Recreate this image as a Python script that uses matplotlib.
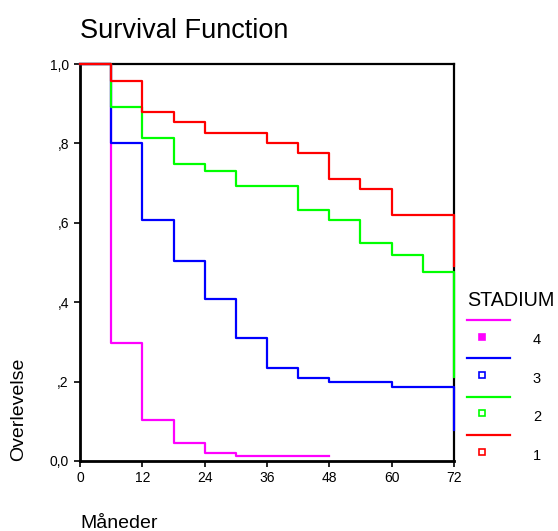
import matplotlib
matplotlib.use("Agg")
import matplotlib.pyplot as plt
from matplotlib.lines import Line2D

plt.rcParams['font.family'] = ['Liberation Sans', 'DejaVu Sans']

# Kaplan-Meier survival estimates per stadium
months = [0, 6, 12, 18, 24, 30, 36, 42, 48, 54, 60, 66, 72]
surv_1 = [1.0, 0.956, 0.879, 0.853, 0.826, 0.826, 0.801, 0.776, 0.710, 0.685, 0.620, 0.620, 0.490]
surv_2 = [1.0, 0.891, 0.814, 0.749, 0.730, 0.692, 0.692, 0.633, 0.608, 0.549, 0.518, 0.477, 0.212]
surv_3 = [1.0, 0.800, 0.607, 0.504, 0.407, 0.309, 0.234, 0.208, 0.200, 0.200, 0.187, 0.187, 0.078]
months_4 = [0, 6, 12, 18, 24, 30, 36, 42, 48]
surv_4 = [1.0, 0.297, 0.103, 0.045, 0.019, 0.013, 0.013, 0.013, 0.013]

stadium_labels = ['4', '3', '2', '1']
stadium_colors = ['#ff00ff', '#0000ff', '#00ff00', '#ff0000']
x_ticks = [0, 12, 24, 36, 48, 60, 72]
y_ticks = [0.0, 0.2, 0.4, 0.6, 0.8, 1.0]
y_ticklabels = ['0,0', ',2', ',4', ',6', ',8', '1,0']

W, H = 558, 531
fig = plt.figure(figsize=(W / 100, H / 100), dpi=100)
ax = fig.add_axes([80 / W, 1 - 461 / H, 374 / W, 397 / H])

# draw stadium 4 first so stadium 1 ends up on top
series = [(months_4, surv_4), (months, surv_3), (months, surv_2), (months, surv_1)]
for (t, s), c in zip(series, stadium_colors):
    ax.step(t, s, where='post', color=c, lw=1.6, zorder=3, clip_on=False)

ax.set_xlim(0, 72)
ax.set_ylim(0, 1)
ax.set_xticks(x_ticks)
ax.set_xticklabels([str(v) for v in x_ticks])
ax.set_yticks(y_ticks)
ax.set_yticklabels(y_ticklabels)
ax.tick_params(direction='out', length=4, width=1.2, labelsize=10, pad=4)
ax.tick_params(axis='x', pad=3.5)
for side in ['left', 'bottom']:
    ax.spines[side].set_linewidth(2)
for side in ['top', 'right']:
    ax.spines[side].set_linewidth(1.6)

ax.set_title('Survival Function', loc='left', fontsize=19.5, pad=19, x=0.0)
fig.text(80 / W, 1 - 528 / H, 'Måneder', fontsize=14, ha='left', va='baseline')
fig.text(19 / W, 1 - 461 / H, 'Overlevelse', fontsize=14, rotation=90,
         ha='center', va='bottom')

# legend: line above, marker + number below
fig.text(467 / W, 1 - 306 / H, 'STADIUM', fontsize=14.2, ha='left', va='baseline')
for i, (lab, c) in enumerate(zip(stadium_labels, stadium_colors)):
    y_line = 320 + i * 38.4
    y_mark = y_line + 16.5
    fig.add_artist(Line2D([467 / W, 510 / W], [1 - y_line / H] * 2, color=c, lw=1.6,
                          transform=fig.transFigure))
    face = c if lab == '4' else 'white'
    fig.add_artist(Line2D([482 / W], [1 - y_mark / H], marker='s', ms=4, mfc=face,
                          mec=c, mew=1.2, transform=fig.transFigure))
    fig.text(537 / W, 1 - (y_mark + 4) / H, lab, fontsize=10.5, ha='center', va='center')

fig.savefig('out.png', dpi=100)
